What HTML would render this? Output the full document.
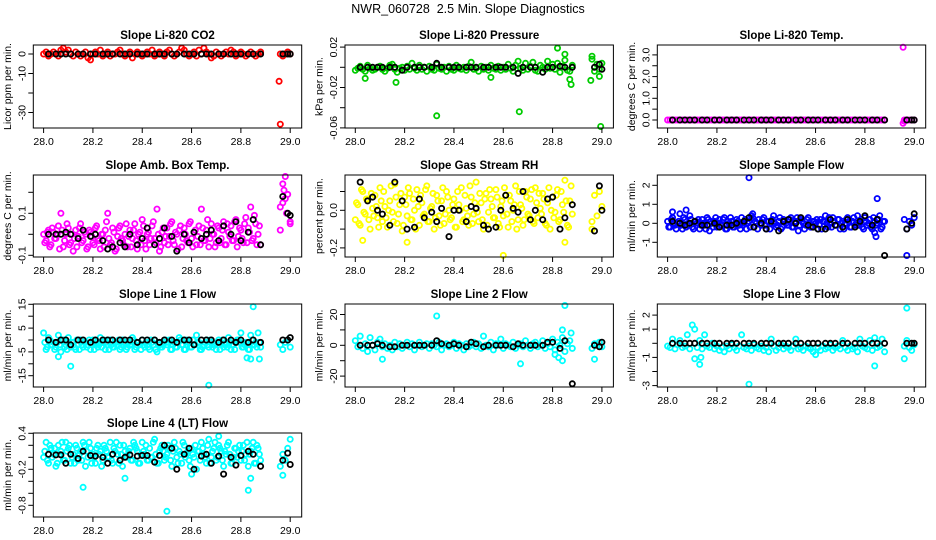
<!DOCTYPE html>
<html><head><meta charset="utf-8"><style>
body{margin:0;background:#fff}
svg{display:block;font-family:"Liberation Sans",Arial,sans-serif}
</style></head><body>
<svg id="chart" width="936" height="540" viewBox="0 0 936 540" xmlns="http://www.w3.org/2000/svg">
<rect width="936" height="540" fill="#fff"/>
<text x="468" y="13" text-anchor="middle" font-size="12.5" style="white-space:pre">NWR_060728  2.5 Min. Slope Diagnostics</text>
</svg>
<script>
// shared time axes
const tMain=[28.00,28.01,28.02,28.03,28.04,28.05,28.06,28.07,28.08,28.09,28.10,28.11,28.12,28.13,28.14,28.15,28.16,28.17,28.18,28.19,28.20,28.21,28.22,28.23,28.24,28.25,28.26,28.27,28.28,28.29,28.30,28.31,28.32,28.33,28.34,28.35,28.36,28.37,28.38,28.39,28.40,28.41,28.42,28.43,28.44,28.45,28.46,28.47,28.48,28.49,28.50,28.51,28.52,28.53,28.54,28.55,28.56,28.57,28.58,28.59,28.60,28.61,28.62,28.63,28.64,28.65,28.66,28.67,28.68,28.69,28.70,28.71,28.72,28.73,28.74,28.75,28.76,28.77,28.78,28.79,28.80,28.81,28.82,28.83,28.84,28.85,28.86,28.87,28.88];
const tHalf=[28.005,28.015,28.025,28.035,28.045,28.055,28.065,28.075,28.085,28.095,28.105,28.115,28.125,28.135,28.145,28.155,28.165,28.175,28.185,28.195,28.205,28.215,28.225,28.235,28.245,28.255,28.265,28.275,28.285,28.295,28.305,28.315,28.325,28.335,28.345,28.355,28.365,28.375,28.385,28.395,28.405,28.415,28.425,28.435,28.445,28.455,28.465,28.475,28.485,28.495,28.505,28.515,28.525,28.535,28.545,28.555,28.565,28.575,28.585,28.595,28.605,28.615,28.625,28.635,28.645,28.655,28.665,28.675,28.685,28.695,28.705,28.715,28.725,28.735,28.745,28.755,28.765,28.775,28.785,28.795,28.805,28.815,28.825,28.835,28.845,28.855,28.865,28.875];
const tGap=[28.96,28.97,28.98,28.99,29.00];
const tBlack=[28.02,28.05,28.07,28.09,28.11,28.14,28.16,28.19,28.21,28.24,28.26,28.28,28.31,28.33,28.35,28.38,28.40,28.42,28.45,28.47,28.49,28.52,28.54,28.57,28.59,28.61,28.64,28.66,28.68,28.71,28.73,28.76,28.78,28.80,28.83,28.85,28.88,28.97,28.99,29.00];
const xTicks=[28.0,28.2,28.4,28.6,28.8,29.0];
const xTickLabels=["28.0","28.2","28.4","28.6","28.8","29.0"];

// Panel 1 CO2
const co2Main=[0,1,-1,0,1,0,-1,2,3,1,2,0,-1,1,0,-1,0,1,-2,-3,0,1,0,2,-1,0,1,-1,0,0,1,2,0,-1,0,1,-2,0,1,0,-1,0,1,0,2,-1,0,1,0,-1,1,2,0,-1,0,1,3,2,0,-1,0,1,-1,2,0,3,1,0,-2,-1,1,0,-1,0,1,0,2,1,-1,0,1,0,-1,0,1,0,-1,0,1];
const co2Gap=[0,-1,0,1,0];
const co2OutX=[28.955,28.96];
const co2OutY=[-14,-36];
const co2Black=[0,0,0,0,0,0,0,0,0,0,0,0,0,0,0,0,0,0,0,0,0,0,0,0,0,0,0,0,0,0,0,0,0,0,0,0,0,0,0,0];
// Panel 2 Pressure
const presMain=[-.003,-.001,.001,-.002,-.004,.002,-.001,-.003,-.002,.000,.001,-.002,-.004,-.001,.002,.003,-.002,-.005,-.001,.000,-.003,.001,-.002,.004,-.001,-.003,.002,-.002,.000,-.004,.001,-.002,-.003,.003,-.001,-.002,.000,-.004,.001,-.002,-.003,.002,-.001,-.002,.000,-.003,.001,.005,-.002,-.001,-.004,.001,-.002,.000,-.003,.002,-.001,-.002,.001,-.003,.000,-.002,.003,-.001,-.004,.002,.006,-.001,-.003,.004,-.002,.001,.005,-.003,-.004,.002,.000,-.002,.006,-.001,.003,-.002,.004,-.005,.001,.007,-.003,-.004,.002];
const presGap=[.008,-.004,.003,-.002,.004];
const presOutX=[28.04,28.165,28.33,28.55,28.665,28.82,28.85,28.87,28.875,28.955,28.96,28.995,28.99];
const presOutY=[-.011,-.015,-.048,-.010,-.044,.019,.013,-.012,-.017,-.013,.011,-.060,-.009];
const presBlack=[0,0,0,0,0,0,0,-.003,0,0,0,0,0,.004,0,0,0,0,0,0,0,0,0,0,0,0,0,-.006,0,0,0,-.005,0,0,.001,0,0,0,.003,-.002];
// Panel 3 Temp
const tempMain=[0,0,0,0,0,0,0,0,0,0,0,0,0,0,0,0,0,0,0,0,0,0,0,0,0,0,0,0,0,0,0,0,0,0,0,0,0,0,0,0,0,0,0,0,0,0,0,0,0,0,0,0,0,0,0,0,0,0,0,0,0,0,0,0,0,0,0,0,0,0,0,0,0,0,0,0,0,0,0,0,0,0,0,0,0,0,0,0,0];
const tempGap=[0,0,0,0,0];
const tempOutX=[28.955,28.955,28.96];
const tempOutY=[3.35,-0.15,-0.05];
const tempBlack=[0,0,0,0,0,0,0,0,0,0,0,0,0,0,0,0,0,0,0,0,0,0,0,0,0,0,0,0,0,0,0,0,0,0,0,0,0,0,0,0];
// Panel 4 Amb box temp
const ambMain=[.00,-.03,.02,-.05,.01,-.02,.04,.10,-.06,.00,.03,-.04,-.08,.02,-.01,.05,-.03,.00,-.06,.01,-.04,.03,-.02,-.07,.00,.02,.10,-.05,.03,-.08,-.01,.04,-.03,.00,-.06,.02,-.02,.05,-.07,.01,.07,-.03,.00,-.05,.04,-.02,.12,-.08,.01,-.04,.03,-.01,.06,-.05,.00,.02,-.06,.03,-.03,.05,-.02,.01,-.05,.04,.12,-.03,.02,-.06,.05,.00,-.04,.03,-.02,.06,-.05,.01,.04,-.03,.07,-.01,.02,-.04,.08,.03,.13,-.02,.05,.00,-.05];
const ambHalf=[-.04,.01,-.06,.03,-.02,.00,-.07,.02,-.03,.05,-.05,.00,-.02,-.06,.03,-.04,.01,-.07,.02,-.01,-.05,.04,-.03,.00,-.06,.06,-.02,-.04,.01,-.07,.03,-.02,-.05,.05,-.01,-.06,.02,-.03,.00,-.05,.04,-.07,.01,-.02,.06,-.04,.00,-.06,.03,-.01,-.05,.05,-.03,.01,-.07,.04,-.02,.00,-.04,.06,-.06,.02,-.01,-.05,.03,-.03,.07,-.02,.00,-.06,.04,-.04,.02,-.05,.05,-.01,-.03,.06,-.06,.03,-.02,.05,-.04,.01,-.03,.09,-.05,.04];
const ambGap=[.02,.15,.28,.19,.06];
const ambOutX=[28.96,28.97,28.98,28.985,29.0,28.975];
const ambOutY=[.13,.24,.17,.10,.05,.21];
const ambBlack=[.00,.00,.00,.01,.00,-.02,.02,-.01,.00,-.03,-.07,-.06,-.04,-.06,.00,-.05,-.02,.03,-.05,-.02,.03,-.01,-.08,.00,-.04,.01,-.02,.00,.02,-.03,.04,.00,.06,-.03,.01,.07,-.05,.18,.10,.09];
// Panel 5 RH
const rhMain=[-.05,.03,-.08,.10,-.02,.06,-.10,.01,.08,-.04,.12,-.06,.02,-.09,.05,-.01,.14,-.07,.03,-.11,.07,-.03,.09,-.05,.00,.11,-.08,.04,-.02,.13,-.06,.02,-.10,.08,-.03,.05,-.07,.10,.00,-.04,.06,-.09,.03,.12,-.05,.01,-.08,.07,-.02,.15,-.06,.04,-.10,.09,-.01,.06,-.04,.11,-.07,.02,-.03,.08,-.09,.05,.00,.13,-.05,.03,-.08,.10,-.02,.06,-.06,.12,-.04,.01,.09,-.07,.04,-.10,.07,-.01,.11,-.05,.03,.16,-.08,.05,-.02];
const rhHalf=[.04,-.07,.11,-.01,.06,-.05,.09,-.03,.02,-.09,.05,.10,-.04,.00,.13,-.06,.07,-.02,.09,-.08,.03,.12,-.05,.06,-.10,.02,.08,-.03,.11,-.06,.01,.09,-.04,.05,-.08,.12,-.02,.07,-.05,.03,-.09,.10,.00,-.06,.08,-.03,.13,-.07,.04,-.01,.09,-.05,.06,-.08,.11,.02,-.04,.07,-.09,.05,.12,-.02,.08,-.06,.03,-.10,.10,.01,-.05,.07,-.03,.11,-.07,.04,.09,-.02,.06,-.08,.12,.00,-.04,.08,-.06,.10,-.01,.05,-.09,.13];
const rhGap=[-.06,.08,-.03,.10,.02];
const rhOutX=[28.03,28.21,28.60,28.85,28.96];
const rhOutY=[-.16,-.17,-.24,-.17,-.10];
const rhBlack=[.15,.05,.07,.00,-.02,-.08,.15,.05,-.10,-.09,.06,-.04,-.01,-.06,.01,-.14,.00,.00,-.06,.02,.01,-.08,-.10,-.09,.00,.08,.01,-.01,.10,-.05,.00,-.05,.06,.07,-.10,-.04,.03,-.11,.13,.00];
// Panel 6 sample flow
const sfMain=[.1,-.2,.3,-.1,.0,.5,-.3,.2,-.1,.4,-.2,.1,.0,-.3,.2,-.1,.3,-.4,.0,.1,-.2,.2,-.1,.3,-.3,.0,.1,-.2,.2,-.1,.3,.0,-.3,.1,.4,-.2,.0,.2,-.1,.3,-.3,.1,.0,.4,-.2,.1,-.3,.2,.0,-.1,.3,-.2,.1,-.4,.2,.0,-.1,.3,-.2,.1,.0,-.3,.2,.1,.4,-.2,.0,.3,-.1,.2,-.3,.1,.0,.3,-.2,.1,-.1,.4,.0,-.2,.3,-.1,.2,-.3,.1,.0,.4,-.2,.1];
const sfHalf=[-.2,.2,.0,-.3,.1,-.1,.3,-.2,.0,.2,-.3,.1,.2,-.1,.0,-.3,.2,.1,-.2,.3,.0,-.1,.2,-.3,.1,.3,-.2,.0,.1,-.3,-.1,.2,.0,-.2,.3,.1,-.3,.0,.2,-.1,.1,-.3,.2,.0,-.1,.3,-.2,.1,-.1,.2,-.2,.0,.3,-.1,.1,-.3,.2,.0,-.2,.1,.2,-.1,-.3,.1,.0,.3,-.2,.1,-.1,.2,.0,-.3,.2,.1,-.2,.3,.0,-.1,.2,-.3,.1,.0,-.2,.3,-.1,.2,-.3,.1];
const sfGap=[.2,-.3,.1,-.1,.3];
const sfOutX=[28.02,28.075,28.33,28.345,28.85,28.845,28.84,28.97];
const sfOutY=[.6,.7,2.4,.5,1.3,-.7,-.5,-1.7];
const sfBlack=[.1,.0,-.1,.0,.1,-.1,-.1,.0,-.2,-.1,-.1,.0,.1,.3,-.2,.0,-.3,.1,-.4,.1,.2,.0,.3,-.1,-.2,-.3,-.3,.2,-.1,-.2,.2,-.2,.1,.4,-.1,.2,-1.7,-.3,.0,.5];
// Panel 7 line 1
const l1Main=[3,-4,1,-2,-1,-3,2,-5,0,-2,1,-3,-1,-4,-2,0,-3,-1,-2,-4,0,-2,-3,1,-1,-4,-2,0,-3,-1,-2,-4,0,-1,-3,-2,1,-4,-1,-2,0,-3,-2,-4,-1,0,-5,-2,-3,-1,-2,0,-4,-1,-3,1,-2,-4,0,-1,-3,-2,2,-1,-4,-2,0,-3,-1,-2,-4,0,-1,-3,-2,1,-4,-2,-1,0,3,-3,-1,-4,2,-2,-1,3,-3];
const l1Half=[-1,-3,0,-2,-4,-1,-2,0,-3,-4,-2,-1,-3,0,-4,-2,-1,-3,0,-2,-4,-1,-2,-3,0,-1,-4,-2,-3,-1,0,-3,-2,-4,-1,-2,0,-3,-1,-4,-2,-1,-3,0,-2,-4,-1,-3,-2,0,-1,-4,-2,-3,-1,0,-2,-4,-1,-3,0,-2,-1,-4,-3,-1,-2,0,-3,-2,-1,-4,0,-2,-3,-1,-2,-4,0,-1,-3,-2,-1,-4,0,-2,-3,-1];
const l1Gap=[-2,-4,-1,0,-3];
const l1OutX=[28.06,28.11,28.67,28.85,28.825,28.84,28.875];
const l1OutY=[-7,-11,-19,14,-7.5,-8,-8];
const l1Black=[0,-1,0,0,-2,0,0,-1,0,0,0,0,0,0,0,-1,0,0,0,-1,0,0,-1,0,0,-2,0,0,0,-1,0,0,-1,0,-1,0,-1,0,0,1];
// Panel 8 line 2
const l2Main=[3,-1,6,-2,1,-4,5,0,-3,2,4,-1,1,-2,0,-3,2,-1,1,-2,0,2,-1,1,-3,0,2,-1,0,1,-2,1,0,-1,2,-3,0,1,-1,0,2,-2,1,0,-3,1,-1,0,2,-1,1,-2,6,0,-1,2,-3,1,0,4,-2,1,0,-1,2,-2,0,1,-1,3,0,-2,1,2,-1,0,3,-2,1,-1,4,-3,2,0,5,-4,1,3,-2];
const l2Gap=[-2,1,0,2,-1];
const l2OutX=[28.33,28.11,28.67,28.85,28.84,28.81,28.825,28.84,28.875,28.97];
const l2OutY=[19,-9,-12,26,10,-6,-8,-10,8,-9];
const l2Black=[0,0,0,1,0,-1,-1,0,0,0,0,0,0,3,1,0,1,0,-1,2,1,-1,0,0,0,0,-1,1,0,0,0,0,2,2,-2,3,-25,0,-1,2];
// Panel 9 line 3
const l3Main=[-.2,-.3,.3,-.4,-.1,.2,-.3,-.2,.6,-.4,1.3,1.0,-.3,.2,-.4,.6,-.2,-.3,.0,-.4,-.2,-.5,-.3,-.6,-.2,-.4,-.1,-.3,-.5,-.2,.6,-.3,-.4,-.2,-.5,-.1,-.3,-.4,-.2,-.5,-.3,-.6,.3,-.2,-.5,-.3,-.1,-.4,-.2,-.3,-.5,-.2,.3,-.4,-.3,-.5,-.2,-.3,-.4,-.6,-.8,-.3,-.5,-.2,-.4,-.3,-.1,-.5,-.3,-.2,-.4,.2,-.3,-.5,-.2,-.4,-.3,-.6,.3,-.2,-.3,-.4,.2,-.5,.4,-.3,-.2,.3,-.6];
const l3Gap=[-.2,.2,-.3,-.5,-.1];
const l3OutX=[28.11,28.135,28.13,28.33,28.84,28.96,28.97];
const l3OutY=[-1.1,-1.0,-1.5,-2.9,-1.6,-1.1,2.5];
const l3Black=[0,0,0,0,0,0,0,0,0,0,0,0,0,0,0,0,0,0,0,0,0,0,0,0,0,0,0,0,0,0,0,0,0,0,0,0,0,0,0,0];
// Panel 10 line 4
const l4Main=[.0,.25,-.1,.15,.05,-.15,.2,.1,-.05,.25,.15,-.1,.05,.2,-.05,.1,.25,-.15,.0,.15,.05,-.1,.2,.1,-.05,.15,.0,.25,-.1,.1,.05,.2,-.15,.1,.0,.15,-.05,.2,.1,-.1,.25,.05,-.05,.15,.0,.3,-.1,.1,.2,-.05,.05,.15,-.15,.25,.0,.1,-.1,.2,.05,-.05,.15,.0,-.2,.1,.25,.05,-.1,.3,.0,.15,-.05,.2,.1,-.15,.05,.25,-.1,.0,.15,.1,-.05,.2,.05,-.15,.1,.25,-.1,.15,-.05];
const l4Half=[.1,-.05,.2,.0,.15,-.1,.05,.25,-.05,.1,.2,.0,-.1,.15,.05,-.05,.2,.1,.25,-.1,.0,.15,.05,-.15,.2,.1,.0,-.05,.15,.25,-.1,.05,.2,.0,.1,-.05,.25,.15,-.1,.05,.1,.2,-.05,.0,.25,.05,-.1,.15,.1,.0,.2,-.05,.1,.15,-.1,.05,.25,.0,.1,-.15,.05,.2,.1,-.05,.15,.0,.2,-.1,.1,.25,.0,.15,-.05,.1,.2,.05,-.1,.15,.0,.2,.1,-.05,.25,.05,.15,-.1,.2,.05];
const l4Gap=[-.15,.05,-.05,.15,.3];
const l4OutX=[28.16,28.33,28.50,28.71,28.83,28.84,28.97,28.60];
const l4OutY=[-.5,-.35,-.9,.35,-.55,-.35,-.3,-.28];
const l4Black=[.05,.04,.04,-.1,.05,-.02,.1,.03,.02,.0,-.1,.05,-.05,.0,.04,.02,.03,.03,-.08,.03,.2,.15,-.2,.05,.15,-.2,.02,.05,-.1,.02,-.28,.0,-.13,.03,.1,.05,-.15,-.05,.07,-.12];

// y ticks & labels per panel
const co2Ticks=[0,-10,-20,-30], co2Labels=["0","-10","","-30"];
const presTicks=[0.02,0,-0.02,-0.04,-0.06], presLabels=["0.02","","-0.02","","-0.06"];
const tempTicks=[3,2.5,2,1.5,1,0.5,0], tempLabels=["3.0","","2.0","","1.0","","0.0"];
const ambTicks=[0.2,0.1,0,-0.1], ambLabels=["","0.1","","-0.1"];
const rhTicks=[0.1,0,-0.1,-0.2], rhLabels=["","0.0","","-0.2"];
const sfTicks=[2,1,0,-1], sfLabels=["2","1","0","-1"];
const l1Ticks=[15,10,5,0,-5,-10,-15], l1Labels=["15","","5","","-5","","-15"];
const l2Ticks=[20,10,0,-10,-20], l2Labels=["20","","0","","-20"];
const l3Ticks=[2,1,0,-1,-2,-3], l3Labels=["2","1","","-1","","-3"];
const l4Ticks=[0.4,0.2,0,-0.2,-0.4,-0.6,-0.8], l4Labels=["0.4","","","-0.2","","","-0.8"];

const NS="http://www.w3.org/2000/svg";
const svg=document.getElementById('chart');
function mk(tag,attrs,parent){const e=document.createElementNS(NS,tag);for(const k in attrs)e.setAttribute(k,attrs[k]);(parent||svg).appendChild(e);return e;}

const cols=[33.3,345,657.3];
const rows=[[45,128],[175,257],[304,387],[433,517]];
const panels=[
 {id:'co2',title:'Slope Li-820 CO2',yl:'Licor ppm per min.',col:0,row:0,c:'#ff0000',m:co2Main,h:[],g:co2Gap,ox:co2OutX,oy:co2OutY,b:co2Black,ticks:co2Ticks,labs:co2Labels,yPix:54,ppu:1.95},
 {id:'pressure',title:'Slope Li-820 Pressure',yl:'kPa per min.',col:1,row:0,c:'#00cc00',m:presMain,h:[],g:presGap,ox:presOutX,oy:presOutY,b:presBlack,ticks:presTicks,labs:presLabels,yPix:67.3,ppu:1010},
 {id:'temp',title:'Slope Li-820 Temp.',yl:'degrees C per min.',col:2,row:0,c:'#ff00ff',m:tempMain,h:[],g:tempGap,ox:tempOutX,oy:tempOutY,b:tempBlack,ticks:tempTicks,labs:tempLabels,yPix:120,ppu:21.7},
 {id:'amb-box-temp',title:'Slope Amb. Box Temp.',yl:'degrees C per min.',col:0,row:1,c:'#ff00ff',m:ambMain,h:ambHalf,g:ambGap,ox:ambOutX,oy:ambOutY,b:ambBlack,ticks:ambTicks,labs:ambLabels,yPix:234.3,ppu:210},
 {id:'gas-rh',title:'Slope Gas Stream RH',yl:'percent per min.',col:1,row:1,c:'#ffff00',m:rhMain,h:rhHalf,g:rhGap,ox:rhOutX,oy:rhOutY,b:rhBlack,ticks:rhTicks,labs:rhLabels,yPix:210.3,ppu:188},
 {id:'sample-flow',title:'Slope Sample Flow',yl:'ml/min per min.',col:2,row:1,c:'#0000ff',m:sfMain,h:sfHalf,g:sfGap,ox:sfOutX,oy:sfOutY,b:sfBlack,ticks:sfTicks,labs:sfLabels,yPix:223.3,ppu:19},
 {id:'line1',title:'Slope Line 1 Flow',yl:'ml/min per min.',col:0,row:2,c:'#00ffff',m:l1Main,h:l1Half,g:l1Gap,ox:l1OutX,oy:l1OutY,b:l1Black,ticks:l1Ticks,labs:l1Labels,yPix:340,ppu:2.38},
 {id:'line2',title:'Slope Line 2 Flow',yl:'ml/min per min.',col:1,row:2,c:'#00ffff',m:l2Main,h:[],g:l2Gap,ox:l2OutX,oy:l2OutY,b:l2Black,ticks:l2Ticks,labs:l2Labels,yPix:345.3,ppu:1.54},
 {id:'line3',title:'Slope Line 3 Flow',yl:'ml/min per min.',col:2,row:2,c:'#00ffff',m:l3Main,h:[],g:l3Gap,ox:l3OutX,oy:l3OutY,b:l3Black,ticks:l3Ticks,labs:l3Labels,yPix:343.3,ppu:14.1},
 {id:'line4',title:'Slope Line 4 (LT) Flow',yl:'ml/min per min.',col:0,row:3,c:'#00ffff',m:l4Main,h:l4Half,g:l4Gap,ox:l4OutX,oy:l4OutY,b:l4Black,ticks:l4Ticks,labs:l4Labels,yPix:457.3,ppu:60}
];

panels.forEach(p=>{
 const L=cols[p.col], R=L+268.4, T=rows[p.row][0], B=rows[p.row][1];
 const xs=v=>L+10.3+(v-28)*246.6;
 const ys=v=>p.yPix-v*p.ppu;
 const g=mk('g',{});
 
 
 const ti=mk('text',{x:(L+R)/2,y:T-6,'text-anchor':'middle','font-size':'11.5','font-weight':'bold'},g);
 ti.textContent=p.title;
 
 
 const yl=mk('text',{transform:`translate(${L-22.5},${(T+B)/2}) rotate(-90)`,'text-anchor':'middle','font-size':'10.5'},g);
 yl.textContent=p.yl;
 
 
 const pts=mk('g',{fill:'none','stroke-width':'1.8'},g);
 
 
 function dot(x,y,c){
  let py=ys(y); py=Math.max(T+1.5,Math.min(B-1.5,py));
  const e=mk('circle',{cx:xs(x).toFixed(1),cy:py.toFixed(1),r:'2.6',stroke:c},pts);
  
  
 }
 p.m.forEach((v,i)=>{if(i<tMain.length)dot(tMain[i],v,p.c);});
 p.h.forEach((v,i)=>{if(i<tHalf.length)dot(tHalf[i],v,p.c);});
 p.g.forEach((v,i)=>dot(tGap[i],v,p.c));
 p.ox.forEach((v,i)=>dot(v,p.oy[i],p.c));
 p.b.forEach((v,i)=>{if(i<tBlack.length)dot(tBlack[i],v,'#000');});
 const bx=mk('rect',{x:L,y:T,width:R-L,height:B-T,fill:'none',stroke:'#000','stroke-width':'1'},g);
 
 
 xTicks.forEach((v,i)=>{
  const x=xs(v);
  const tk=mk('line',{x1:x,x2:x,y1:B,y2:B+5,stroke:'#000'},g);
  
  
  const tl=mk('text',{x:x,y:B+17,'text-anchor':'middle','font-size':'10.5'},g);
  tl.textContent=xTickLabels[i];
  
  
 });
 p.ticks.forEach((v,i)=>{
  const y=ys(v);
  const tk=mk('line',{x1:L-5,x2:L,y1:y,y2:y,stroke:'#000'},g);
  
  
  if(p.labs[i]){
   const tl=mk('text',{transform:`translate(${L-8},${y}) rotate(-90)`,'text-anchor':'middle','font-size':'10.5'},g);
   tl.textContent=p.labs[i];
   
   
  }
 });
});
</script>
</body></html>
